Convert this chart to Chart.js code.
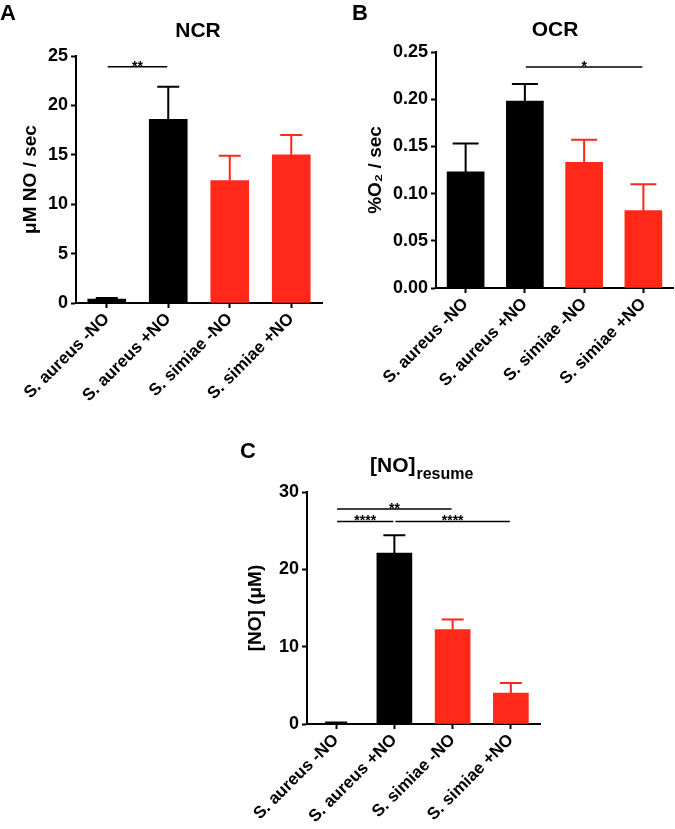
<!DOCTYPE html>
<html><head><meta charset="utf-8">
<script src="https://cdn.jsdelivr.net/npm/chart.js@4.4.0/dist/chart.umd.min.js"></script>
<style>
body{margin:0;background:#fff;}
#wrap{position:relative;width:675px;height:829px;overflow:hidden;background:#fff;}
canvas{position:absolute;}
</style></head><body>
<div id="wrap">
<canvas id="cA" width="337" height="440" style="left:0px;top:0px;width:337px;height:440px"></canvas>
<canvas id="cB" width="338" height="440" style="left:337px;top:0px;width:338px;height:440px"></canvas>
<canvas id="cC" width="345" height="389" style="left:200px;top:440px;width:345px;height:389px"></canvas>
</div>
<script>
// ---- data ----
const categories = ['S. aureus -NO', 'S. aureus +NO', 'S. simiae -NO', 'S. simiae +NO'];
const barColors = ['#000000', '#000000', '#ff2819', '#ff2819'];

const ncrMean = [0.4, 18.6, 12.4, 15.0];
const ncrSem  = [0.1, 3.3, 2.5, 2.0];
const ncrSig  = [[0, 1, 23.9, '**']];
const ncrTicks = [0, 5, 10, 15, 20, 25];

const ocrMean = [0.123, 0.198, 0.133, 0.082];
const ocrSem  = [0.030, 0.018, 0.024, 0.028];
const ocrSig  = [[1, 3, 0.234, '*']];
const ocrTicks = [0, 0.05, 0.10, 0.15, 0.20, 0.25];

const noMean = [0.05, 22.1, 12.2, 4.0];
const noSem  = [0.15, 2.3, 1.3, 1.3];
const noSig  = [[0, 2, 27.8, '**'], [0, 1, 26.2, '****'], [1, 3, 26.2, '****']];
const noTicks = [0, 10, 20, 30];

const FONT = "'Liberation Sans', Arial, Helvetica, sans-serif";

function extrasPlugin(cfg) {
  return {
    id: 'extras' + cfg.key,
    afterDatasetsDraw(chart) {
      const ctx = chart.ctx;
      const xs = chart.scales.x, ys = chart.scales.y;
      const meta = chart.getDatasetMeta(0);
      ctx.save();
      // error bars (upper only)
      cfg.mean.forEach((m, i) => {
        const bar = meta.data[i];
        const x = bar.x;
        const yb = ys.getPixelForValue(m);
        const yt = ys.getPixelForValue(m + cfg.sem[i]);
        ctx.strokeStyle = barColors[i];
        ctx.lineWidth = 2;
        ctx.beginPath();
        ctx.moveTo(x, yb); ctx.lineTo(x, yt);
        ctx.moveTo(x - cfg.cap / 2, yt); ctx.lineTo(x + cfg.cap / 2, yt);
        ctx.stroke();
      });
      // significance lines
      cfg.sig.forEach(s => {
        const x1 = xs.getPixelForValue(s[0]) + 1;
        const x2 = xs.getPixelForValue(s[1]) - 1;
        const y = ys.getPixelForValue(s[2]);
        ctx.strokeStyle = '#000';
        ctx.lineWidth = 1.5;
        ctx.beginPath(); ctx.moveTo(x1, y); ctx.lineTo(x2, y); ctx.stroke();
        ctx.fillStyle = '#000';
        ctx.font = 'bold 14px ' + FONT;
        ctx.textAlign = 'center';
        ctx.textBaseline = 'alphabetic';
        ctx.fillText(s[3], (x1 + x2) / 2, y + 4);
      });
      ctx.restore();
    },
    afterDraw(chart) {
      const ctx = chart.ctx;
      ctx.save();
      ctx.fillStyle = '#000';
      ctx.textBaseline = 'alphabetic';
      ctx.textAlign = 'left';
      ctx.font = 'bold 22px ' + FONT;
      ctx.fillText(cfg.letter, cfg.letterX, cfg.letterY);
      cfg.drawTitle(ctx);
      ctx.restore();
    }
  };
}

function makeChart(id, cfg) {
  const tickFont = { family: FONT, weight: 'bold', size: 18 };
  return new Chart(document.getElementById(id), {
    type: 'bar',
    data: {
      labels: categories,
      datasets: [{ data: cfg.mean, backgroundColor: barColors, borderWidth: 0, barThickness: cfg.barW }]
    },
    options: {
      responsive: false,
      animation: false,
      devicePixelRatio: 1,
      layout: { padding: { top: cfg.top, right: cfg.right, left: 0, bottom: 0 } },
      plugins: { legend: { display: false }, tooltip: { enabled: false }, title: { display: false } },
      scales: {
        x: {
          type: 'category',
          offset: true,
          grid: { display: true, offset: false, drawOnChartArea: false, drawTicks: true, tickLength: 5, tickWidth: 2, tickColor: '#000' },
          border: { display: true, color: '#000', width: 2 },
          ticks: { color: '#000', font: { family: FONT, weight: 'bold', size: 17 }, minRotation: 45, maxRotation: 45, autoSkip: false, padding: 1 },
          afterFit(s) { s.height = cfg.xH; }
        },
        y: {
          min: 0, max: cfg.max,
          afterBuildTicks(s) { s.ticks = cfg.ticks.map(v => ({ value: v })); },
          grid: { display: true, drawOnChartArea: false, drawTicks: true, tickLength: 5, tickWidth: 2, tickColor: '#000' },
          border: { display: true, color: '#000', width: 2 },
          ticks: { color: '#000', font: tickFont, padding: 3, callback: cfg.fmt },
          title: { display: true, text: cfg.yTitle, color: '#000', font: { family: FONT, weight: 'bold', size: 19 }, padding: { top: cfg.yTitlePad, bottom: 0 } },
          afterFit(s) { s.width = cfg.yW; }
        }
      }
    },
    plugins: [extrasPlugin(cfg)]
  });
}

makeChart('cA', {
  key: 'A', mean: ncrMean, sem: ncrSem, sig: ncrSig, ticks: ncrTicks, max: 25,
  fmt: v => String(v), yTitle: 'μM NO / sec', yTitlePad: 19,
  top: 56, right: 15, yW: 76, xH: 137, barW: 38, cap: 22,
  letter: 'A', letterX: 0, letterY: 20,
  drawTitle(ctx) { ctx.font = 'bold 21px ' + FONT; ctx.textAlign = 'center'; ctx.fillText('NCR', 198, 37); }
});

makeChart('cB', {
  key: 'B', mean: ocrMean, sem: ocrSem, sig: ocrSig, ticks: ocrTicks, max: 0.25,
  fmt: v => Number(v).toFixed(2), yTitle: '%O\u2082 / sec', yTitlePad: 27,
  top: 52, right: 2, yW: 99, xH: 152, barW: 37, cap: 26,
  letter: 'B', letterX: 15, letterY: 20,
  drawTitle(ctx) { ctx.font = 'bold 21px ' + FONT; ctx.textAlign = 'center'; ctx.fillText('OCR', 218, 36); }
});

makeChart('cC', {
  key: 'C', mean: noMean, sem: noSem, sig: noSig, ticks: noTicks, max: 30,
  fmt: v => String(v), yTitle: '[NO] (μM)', yTitlePad: 44,
  top: 52, right: 5, yW: 107, xH: 105, barW: 35, cap: 22,
  letter: 'C', letterX: 40, letterY: 18,
  drawTitle(ctx) {
    ctx.textAlign = 'left';
    ctx.font = 'bold 21px ' + FONT;
    ctx.fillText('[NO]', 170, 32);
    const w = ctx.measureText('[NO]').width;
    ctx.font = 'bold 16px ' + FONT;
    ctx.fillText('resume', 170 + w + 1, 39);
  }
});
</script>
</body></html>
